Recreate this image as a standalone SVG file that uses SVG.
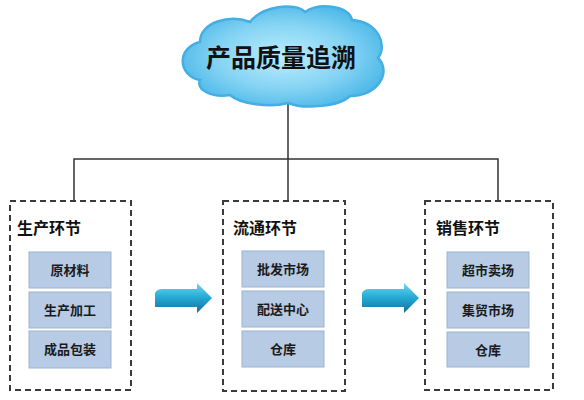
<svg xmlns="http://www.w3.org/2000/svg" width="584" height="400" viewBox="0 0 584 400">
<defs>
<radialGradient id="cloudG" cx="0.5" cy="0.5" r="0.6">
<stop offset="0" stop-color="#bdeeff"/>
<stop offset="0.55" stop-color="#84d3f3"/>
<stop offset="1" stop-color="#40b2e6"/>
</radialGradient>
<linearGradient id="arrG" x1="0" y1="0" x2="0" y2="1">
<stop offset="0" stop-color="#6fd6ee"/>
<stop offset="0.5" stop-color="#22a8d4"/>
<stop offset="1" stop-color="#146f98"/>
</linearGradient>
<style>
.frame{fill:#fff;stroke:#3a3a3a;stroke-width:2;stroke-dasharray:6 4}
.item{fill:#b7cbe5;stroke:#9db3d2;stroke-width:1}
.title{font-family:"Noto Sans CJK SC","Liberation Sans",sans-serif;font-weight:bold;font-size:16px;fill:#111}
.itxt{font-family:"Noto Sans CJK SC","Liberation Sans",sans-serif;font-weight:bold;font-size:13px;fill:#1a1a1a;text-anchor:middle}
.conn{fill:none;stroke:#333;stroke-width:1.5}
</style>
</defs>
<rect width="584" height="400" fill="#fff"/>
<g id="connectors">
<path class="conn" d="M288,100 V200 M74,200 V159 H498 V200"/>
</g>
<g id="cloud">
<path d="M200,80 C178,76 176,48 200,42 C200,22 230,14 250,22 C262,6 295,2 305,12 C320,2 350,6 352,20 C378,22 388,45 378,58 C392,72 378,96 350,96 C340,106 305,110 288,103 C270,108 240,104 230,95 C212,98 196,90 200,80 Z" fill="url(#cloudG)" stroke="#45aee2" stroke-width="2.5"/>
<text x="281" y="67" text-anchor="middle" font-family="Noto Sans CJK SC,Liberation Sans,sans-serif" font-weight="bold" font-size="25" fill="#111">产品质量追溯</text>
</g>
<g id="production">
<rect class="frame" x="10" y="201" width="121" height="189"/>
<text class="title" x="17" y="234">生产环节</text>
<rect class="item" x="29" y="252" width="82" height="36"/>
<text class="itxt" x="70" y="275">原材料</text>
<rect class="item" x="29" y="292" width="82" height="36"/>
<text class="itxt" x="70" y="315">生产加工</text>
<rect class="item" x="29" y="331" width="82" height="37"/>
<text class="itxt" x="70" y="354">成品包装</text>
</g>
<g id="circulation">
<rect class="frame" x="223" y="201" width="122" height="190"/>
<text class="title" x="233" y="234">流通环节</text>
<rect class="item" x="242" y="251" width="82" height="36"/>
<text class="itxt" x="283" y="274">批发市场</text>
<rect class="item" x="242" y="291" width="82" height="36"/>
<text class="itxt" x="283" y="314">配送中心</text>
<rect class="item" x="242" y="331" width="82" height="36"/>
<text class="itxt" x="283" y="354">仓库</text>
</g>
<g id="sales">
<rect class="frame" x="425" y="201" width="128" height="189"/>
<text class="title" x="436" y="234">销售环节</text>
<rect class="item" x="447" y="252" width="82" height="36"/>
<text class="itxt" x="488" y="275">超市卖场</text>
<rect class="item" x="447" y="292" width="82" height="36"/>
<text class="itxt" x="488" y="315">集贸市场</text>
<rect class="item" x="447" y="332" width="82" height="35"/>
<text class="itxt" x="488" y="355">仓库</text>
</g>
<g id="arrow1">
<path d="M155,293 Q157,289 162,289 H197 V283 L212,298 L197,313 V307 H155 Z" fill="url(#arrG)"/>
</g>
<g id="arrow2">
<path d="M362,293 Q364,289 369,289 H404 V283 L419,298 L404,313 V307 H362 Z" fill="url(#arrG)"/>
</g>
</svg>
